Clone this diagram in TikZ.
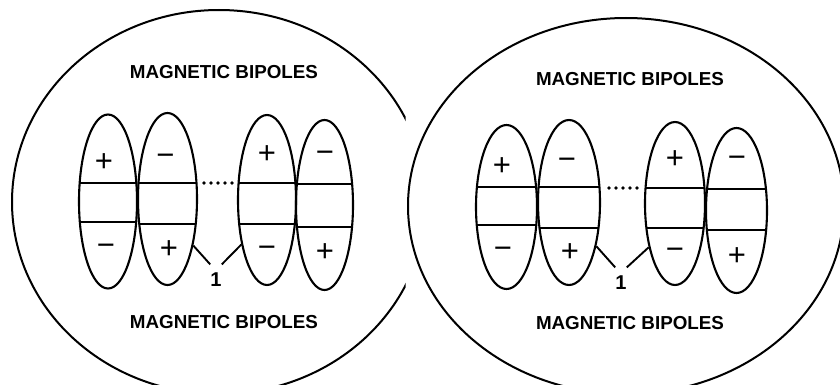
\documentclass[tikz,border=0pt]{standalone}
\usepackage{fontspec}
\setmainfont{Liberation Sans}
\usetikzlibrary{shapes.geometric}
\tikzset{
  bip/.style={draw, ellipse, line width=2.1pt, inner sep=0pt},
  divline/.style={line width=2pt},
  bigring/.style={line width=2pt},
  titletext/.style={font=\fontsize{18.8}{20}\selectfont\bfseries, inner sep=0pt},
  signtext/.style={font=\fontsize{31}{31}\selectfont, inner sep=0pt},
  numlabel/.style={font=\fontsize{20}{22}\selectfont\bfseries, inner xsep=0pt, inner ysep=8pt},
  leader/.style={line width=1.9pt},
}
\newcommand\mybip[7]{%
  \node[bip, minimum width={2*#4 pt}, minimum height={2*#5 pt}] (#1) at (#2,#3) {};
  \begin{scope}
    \clip (#2,#3) ellipse [x radius=#4, y radius=#5];
    \draw[divline] ({#2-40},#6) -- ({#2+40},#6);
    \draw[divline] ({#2-40},#7) -- ({#2+40},#7);
  \end{scope}
}
\begin{document}
\begin{tikzpicture}[x=1pt, y=-1pt]
\fill[white] (0,0) rectangle (840,385);
\clip (0,0) rectangle (840,385);
% big rings
\begin{scope}
  \clip (0,0) rectangle (405.5,385);
  \draw[bigring] (219,202) ellipse [x radius=207, y radius=192];
\end{scope}
\draw[bigring] (626,206) ellipse [x radius=218, y radius=188];

% ---------- left panel ----------
\node[titletext] (lt) at (224,72) {MAGNETIC BIPOLES};
\node[titletext] (lbt) at (224,322) {MAGNETIC BIPOLES};
\mybip{la}{108}{201.5}{29}{87}{183}{222}
\mybip{lb}{167.5}{199}{29.5}{86}{183}{224}
\mybip{lc}{267}{200}{29}{85}{183}{224}
\mybip{ld}{324.5}{205}{28.5}{85}{184}{227}
\node[signtext] (la1) at (104,162.5) {+};
\node[signtext] (la2) at (106,250) {−};
\node[signtext] (lb1) at (165.5,160) {−};
\node[signtext] (lb2) at (169,250) {+};
\node[signtext] (lc1) at (267,155) {+};
\node[signtext] (lc2) at (267,252) {−};
\node[signtext] (ld1) at (325,157) {−};
\node[signtext] (ld2) at (325,253) {+};
\foreach \i in {0,...,4} \fill (204+7*\i,183) circle (1.8);
\node[numlabel] (lone) at (216,279.5) {1};
\draw[leader] (lb.-61) -- (lone.north west);
\draw[leader] (lc.-120) -- (lone.north east);

% ---------- right panel ----------
\node[titletext] (rt) at (630,79) {MAGNETIC BIPOLES};
\node[titletext] (rbt) at (630,323) {MAGNETIC BIPOLES};
\mybip{ra}{506.5}{207}{30.5}{82}{187}{225}
\mybip{rb}{569}{202.5}{31}{82.5}{187}{228}
\mybip{rc}{675}{203.5}{30}{81.5}{188}{228}
\mybip{rd}{736.5}{210.5}{30.5}{82.5}{189}{230}
\node[signtext] (ra1) at (502,167) {+};
\node[signtext] (ra2) at (503,253) {−};
\node[signtext] (rb1) at (567,164) {−};
\node[signtext] (rb2) at (570,253) {+};
\node[signtext] (rc1) at (675,160) {+};
\node[signtext] (rc2) at (675,254) {−};
\node[signtext] (rd1) at (737,162) {−};
\node[signtext] (rd2) at (737,257) {+};
\foreach \i in {0,...,4} \fill (609+7*\i,188) circle (1.8);
\node[numlabel] (rone) at (621,282.5) {1};
\draw[leader] (rb.-58) -- (rone.north west);
\draw[leader] (rc.-121) -- (rone.north east);
\end{tikzpicture}
\end{document}
